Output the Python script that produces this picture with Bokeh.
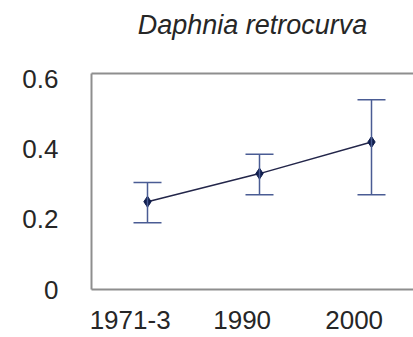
from bokeh.plotting import figure
from bokeh.models import (ColumnDataSource, Whisker, TeeHead, FixedTicker,
                          LinearAxis, Range1d)
from bokeh.embed import file_html
from bokeh.resources import INLINE

# Mean value per sampling period with the ends of its error bar
periods = ["1971-3", "1990", "2000"]
mean_values = [0.25, 0.33, 0.42]
lower_values = [0.19, 0.27, 0.27]
upper_values = [0.305, 0.385, 0.54]
y_ticks = [0, 0.2, 0.4, 0.6]

FONT = "Liberation Sans"
TEXT = "#262626"
FRAME = "#8e8e8e"

xs = [i + 0.5 for i in range(len(periods))]
label_pos = [round(i + 0.345, 3) for i in range(len(periods))]

src = ColumnDataSource(dict(x=xs, mean=mean_values,
                            lower=lower_values, upper=upper_values))

p = figure(width=413, height=337, output_backend="svg", toolbar_location=None,
           x_range=Range1d(0, 2.875), y_range=Range1d(0, 0.615),
           min_border_left=91, min_border_right=0,
           min_border_top=73, min_border_bottom=48,
           title="Daphnia retrocurva")

p.title.text_font = FONT
p.title.text_font_style = "italic"
p.title.text_font_size = "27px"
p.title.text_color = TEXT
p.title.align = "center"
p.title.vertical_align = "top"
p.title.standoff = 16

p.outline_line_color = None
p.xgrid.visible = False
p.ygrid.visible = False
p.background_fill_color = "white"
p.border_fill_color = "white"

for ax in (p.xaxis[0], p.yaxis[0]):
    ax.axis_line_color = FRAME
    ax.axis_line_width = 2
    ax.major_tick_line_color = None
    ax.minor_tick_line_color = None
    ax.major_tick_out = 0
    ax.major_tick_in = 0
    ax.major_label_text_font = FONT
    ax.major_label_text_font_size = "26px"
    ax.major_label_text_color = TEXT

p.yaxis.ticker = FixedTicker(ticks=y_ticks)
p.yaxis.major_label_overrides = {0: "0", 0.2: "0.2", 0.4: "0.4", 0.6: "0.6"}
p.yaxis.major_label_standoff = 33

p.xaxis.ticker = FixedTicker(ticks=label_pos)
p.xaxis.major_label_overrides = {pos: name for pos, name in zip(label_pos, periods)}
p.xaxis.major_label_standoff = 21

# top border of the plot area; its hidden tick keeps the gap below the title
top = LinearAxis(ticker=FixedTicker(ticks=[1]), axis_line_color=FRAME,
                 axis_line_width=2, major_tick_line_color=None,
                 minor_tick_line_color=None, major_tick_out=24, major_tick_in=0,
                 major_label_overrides={1: ""}, major_label_standoff=0)
p.add_layout(top, "above")

BAR = "#4a5c94"
p.add_layout(Whisker(source=src, base="x", lower="lower", upper="upper",
                     line_color=BAR, line_width=1.5, level="glyph",
                     lower_head=TeeHead(size=28, line_color=BAR, line_width=1.5),
                     upper_head=TeeHead(size=28, line_color=BAR, line_width=1.5)))

p.line("x", "mean", source=src, line_color="#23264a", line_width=1.5)
p.scatter("x", "mean", source=src, marker="diamond", size=11,
          fill_color="#0f1d4d", line_color="#0f1d4d")

open("out.html", "w").write(file_html(p, INLINE))
